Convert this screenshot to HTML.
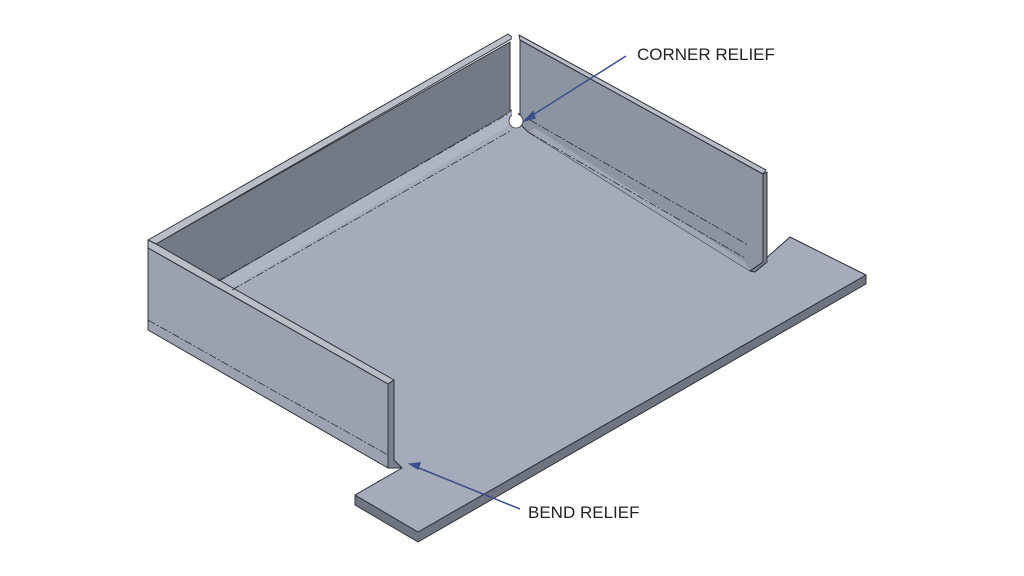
<!DOCTYPE html>
<html><head><style>body{margin:0;background:#fff}svg{display:block}</style></head><body>
<svg width="1024" height="576" viewBox="0 0 1024 576" xmlns="http://www.w3.org/2000/svg">
<rect width="1024" height="576" fill="#fff"/>
<g stroke="#2e3138" stroke-width="1" stroke-linejoin="round">
<!-- floor thickness -->
<polygon points="866,275 866,284 418,542 355,505 355,495 418,532" fill="#6f7580"/>
<!-- floor top -->
<polygon points="512,110 765,256 765,262 755,268 790,237 866,275 418,532 355,495 402,468 220,288 200,262" fill="#a6abbb"/>
<!-- back wall inner face -->
<polygon points="156,244 510,42 510,112 215,284" fill="#737a86"/>
<!-- back wall bend strip -->
<polygon points="215,284 510,112 512,124 225,292" fill="#b0b5c3" stroke="none"/>
<!-- back wall top strip -->
<polygon points="148,240 508,34 513,38 156,244" fill="#b9bdc8"/>
<!-- right wall inner face -->
<polygon points="520,40 763,174 763,262 750,271 528,132 520,124" fill="#8d94a1"/>
<polygon points="528,132 750,271 745,262 535,128" fill="#a0a6b4" stroke="none"/>
<polygon points="519,35 766,170 763,174 520,40" fill="#b9bdc8"/>
<polygon points="763,174 767,172 767,262 755,272 750,271 763,262" fill="#7a808c"/>
<!-- left wall top strip -->
<polygon points="148,240 156,244 394,380 388,384 148,248" fill="#b9bdc8"/>
<!-- left wall front face -->
<polygon points="148,248 388,384 388,468 148,330" fill="#9ba1ae"/>
<polygon points="388,384 394,380 394,460 402,468 388,468" fill="#7a808c"/>
</g>
<!-- dash-dot bend lines -->
<g stroke="#2e3138" stroke-width="0.8" stroke-dasharray="8,2,2,2" fill="none">
<line x1="218" y1="281" x2="508" y2="114"/>
<line x1="232" y1="290" x2="512" y2="130"/>
<line x1="530" y1="120" x2="748" y2="245"/>
<line x1="528" y1="132" x2="745" y2="258"/>
<line x1="148" y1="320" x2="388" y2="455"/>
</g>
<!-- corner relief -->
<circle cx="516" cy="121" r="7" fill="#fff" stroke="#2e3138" stroke-width="0.8"/>
<rect x="512" y="34" width="6" height="84" fill="#fff"/>
<!-- leaders -->
<g stroke="#3b4f8c" stroke-width="1.5" fill="#3b4f8c">
<line x1="626" y1="56" x2="528" y2="118"/>
<polygon points="524,121 533,112 535,118"/>
<line x1="520" y1="509" x2="414" y2="466"/>
<polygon points="410,464 420,463 418,469"/>
</g>
<g font-family="Liberation Sans, sans-serif" font-size="17" fill="#222">
<text x="637" y="60">CORNER RELIEF</text>
<text x="528" y="518">BEND RELIEF</text>
</g>
</svg>
</body></html>
